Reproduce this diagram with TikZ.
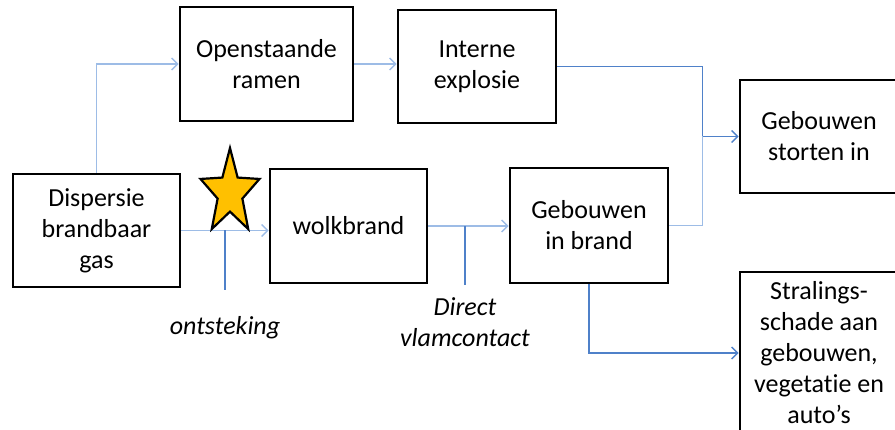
\documentclass[tikz,border=0pt]{standalone}
\usepackage{fontspec}
\setmainfont{Carlito}[Ligatures={NoCommon}]
\usetikzlibrary{arrows.meta,calc}
\definecolor{linkstrong}{HTML}{4F81C9}
\definecolor{linklight}{HTML}{9DBCE6}
\definecolor{stargold}{HTML}{FFC000}
\begin{document}
\begin{tikzpicture}[x=1pt,y=-1pt,
  box/.style={draw=black, line width=2.6pt, fill=white, rectangle,
    inner sep=0pt, align=center, font=\fontsize{26}{31}\selectfont},
  link/.style={draw=linkstrong, line width=1.4pt},
  lightlink/.style={draw=linklight, line width=1.4pt},
  tip/.style={-{Straight Barb[length=6pt,width=12pt,line width=1.4pt]}},
  lbl/.style={font=\fontsize{26}{31}\selectfont\itshape, align=center, inner sep=0pt}]
\useasboundingbox (0,0) rectangle (895,430);
\clip (0,0) rectangle (895,430);

% boxes
\node[box, minimum width=173pt, minimum height=114pt] (open) at (266.5,64) {Openstaande\\ramen};
\node[box, minimum width=158pt, minimum height=113pt] (int) at (477,66.5) {Interne\\explosie};
\node[box, minimum width=167pt, minimum height=113pt] (disp) at (96.5,230.5) {Dispersie\\brandbaar\\gas};
\node[box, minimum width=157pt, minimum height=114pt] (wolk) at (348.5,226) {wolkbrand};
\node[box, minimum width=158pt, minimum height=115pt] (gib) at (589,225.5) {Gebouwen\\in brand};
\node[box, minimum width=158pt, minimum height=113pt] (storten) at (819,136.5) {Gebouwen\\storten in};
\node[box, minimum width=158pt, minimum height=162pt] (stral) at (819,353) {Stralings-\\schade aan\\gebouwen,\\vegetatie en\\auto’s};

% junction and label anchors
\coordinate (j) at ($(storten.west)+(-36,0)$);
\coordinate (ign) at (225,290);
\coordinate (dv) at (465,285);

% connectors
\draw[lightlink, tip] (disp.north) |- (open.west);
\draw[lightlink, tip] (open.east) -- (open.east -| int.west);
\draw[link] (int.east) -| (j);
\draw[link, tip] (j) -- (storten.west);
\draw[lightlink] (gib.east) -| (j);
\draw[lightlink, tip] (disp.east) -- (disp.east -| wolk.west);
\draw[link] (ign) -- (ign |- disp.east);
\draw[lightlink, tip] (wolk.east) -- (wolk.east -| gib.west);
\draw[link] (dv) -- (dv |- wolk.east);
\draw[link, tip] (gib.south) |- (stral.west);

% labels
\node[lbl] (ontst) at (225,328) {ontsteking};
\node[lbl] (vlam) at (465,322.5) {Direct\\vlamcontact};

% ignition star
\begin{scope}[shift={(230,192.8)}, xscale=31, yscale=44.8]
  \draw[fill=stargold, draw=black, line width=2.2pt, line join=miter]
    (-90:1) -- (-54:0.42) -- (-18:1) -- (18:0.42) -- (54:1) -- (90:0.42)
    -- (126:1) -- (162:0.42) -- (198:1) -- (234:0.42) -- cycle;
\end{scope}
\end{tikzpicture}
\end{document}
